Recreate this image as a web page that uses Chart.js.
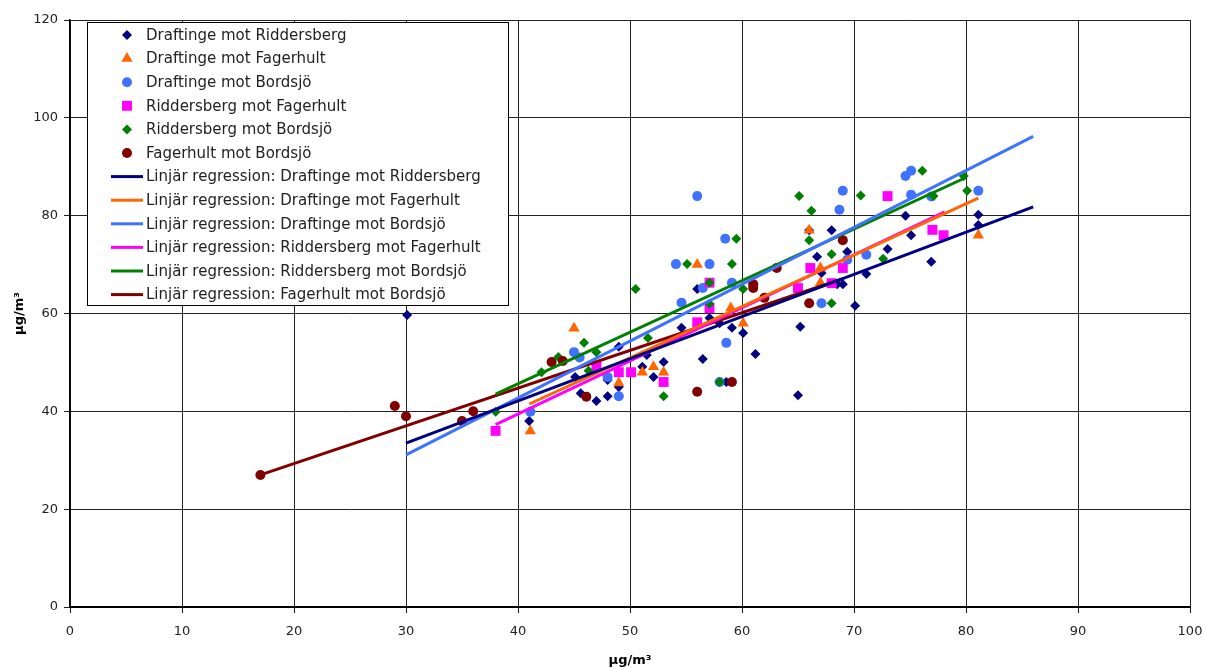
<!DOCTYPE html>
<html>
<head>
<meta charset="utf-8">
<script src="https://cdn.jsdelivr.net/npm/chart.js@4.4.1/dist/chart.umd.min.js"></script>
<style>
  html, body { margin: 0; padding: 0; background: #fff; }
  #wrap { width: 1205px; height: 668px; }
</style>
</head>
<body>
<div id="wrap"><canvas id="chart" width="1205" height="668"></canvas></div>
<script>
// tick labels
var xTicks = [0, 10, 20, 30, 40, 50, 60, 70, 80, 90, 100];
var yTicks = [0, 20, 40, 60, 80, 100, 120];

// series names
var names = ["Draftinge mot Riddersberg", "Draftinge mot Fagerhult", "Draftinge mot Bordsjö",
             "Riddersberg mot Fagerhult", "Riddersberg mot Bordsjö", "Fagerhult mot Bordsjö"];

// scatter values [x, y]
var drRid = [[30.1,59.7],[41,38],[45.1,47],[45.6,43.7],[47,42.1],[48,43.1],[48,46.4],[49,53.2],[49,45],
  [51.1,49.1],[51.5,51.5],[52.1,47],[53,50.1],[54.6,57.1],[56,65],[56.5,50.7],[57.1,59.1],[58,58],
  [58.6,46],[59.1,57.1],[60.1,56],[61.2,51.7],[65,43.3],[65.2,57.3],[66,77],[66.7,71.6],[67.1,68.3],
  [68,77],[68.5,66],[69,66],[69.4,72.6],[70.1,61.6],[71.1,68.1],[73,73.2],[74.6,80],[75.1,76],
  [76.9,70.6],[81.1,80.2],[81.1,78.1]];
var drFag = [[41.1,36],[45,57],[49,45.8],[51.1,48],[52.1,49.1],[53,48],[56,70],[59,61.1],[60.1,58],
  [66,77],[67,69.3],[67,66.3],[81.1,76]];
var drBor = [[41.1,39.9],[45,52.1],[45.5,51],[48,47],[49,43.1],[54.1,70.1],[54.6,62.2],[56,84],
  [56.5,65.2],[57.1,70.1],[58,46],[58.5,75.3],[58.6,54],[59.1,66.3],[67.1,62.1],[68.7,81.2],[69,85.1],
  [69.4,71],[71.1,72],[74.6,88.1],[75.1,89.2],[75.1,84.3],[76.9,83.9],[81.1,85.1]];
var ridFag = [[38,36],[47,49.3],[49,48],[50.1,48],[53,46],[56,58.2],[57.1,61.1],[57.1,66.3],[65,65.2],
  [66.1,69.3],[68,66.2],[69,69.3],[73,84],[77,77.1],[78,76]];
var ridBor = [[38,39.9],[42.1,48],[43.6,51.1],[45.9,54],[46.3,48.3],[47,52.1],[50.5,65],[51.6,55],
  [53,43.1],[55.1,70.1],[57.1,62],[57.1,66.3],[58,46],[59.1,70.1],[59.5,75.3],[60.1,65],[65.1,84],
  [66,75],[66.2,81],[68,72.1],[68,62.1],[70.6,84.1],[72.6,71.2],[76.1,89.2],[77.1,84],[79.8,88.1],
  [80.1,85.1]];
var fagBor = [[17,27],[29,41.1],[30,39],[35,38],[36,40],[43,50.1],[44,50.3],[46.1,43],[56,44],
  [59.1,46],[61,66],[61,65.2],[62,63.2],[63.1,69.3],[66,62.1],[69,75]];

// regression line end points [x, y]
var regDrRid = [[30,33.5],[86,81.8]];
var regDrFag = [[41,41.5],[81.1,83.6]];
var regDrBor = [[30,31.1],[86,96.2]];
var regRidFag = [[38,37.3],[78.1,80.8]];
var regRidBor = [[38,43.5],[79.9,87.7]];
var regFagBor = [[17,27],[69,67.1]];

var colors = ["#000080", "#FF6600", "#3F72FF", "#FF00FF", "#008000", "#800000"];
var shapes = ["rectRot", "triangle", "circle", "rect", "rectRot", "circle"];
var sizes = [5, 6.5, 5, 7, 5, 5];

function toPts(arr) {
  return arr.map(function(p){ return {x: p[0], y: p[1]}; });
}

var pointSets = [drRid, drFag, drBor, ridFag, ridBor, fagBor];
var lineSets = [regDrRid, regDrFag, regDrBor, regRidFag, regRidBor, regFagBor];

var datasets = [];
lineSets.forEach(function(s, i){
  datasets.push({
    label: "Linjär regression: " + names[i],
    data: toPts(s),
    showLine: true,
    borderColor: colors[i],
    backgroundColor: colors[i],
    borderWidth: 3,
    pointRadius: 0,
    order: i
  });
});
pointSets.forEach(function(s, i){
  datasets.push({
    label: names[i],
    data: toPts(s),
    showLine: false,
    pointStyle: shapes[i],
    pointRadius: sizes[i],
    pointBackgroundColor: colors[i],
    pointBorderColor: colors[i],
    pointBorderWidth: 0,
    order: 20 - i
  });
});

var FONT = "'DejaVu Sans', sans-serif";

// boxed legend inside the plot, like the original
var boxLegend = {
  id: "boxLegend",
  afterDraw: function(chart) {
    var ctx = chart.ctx;
    ctx.save();
    ctx.fillStyle = "#fff";
    ctx.fillRect(87, 22, 421, 283);
    ctx.strokeStyle = "#000";
    ctx.lineWidth = 1;
    ctx.strokeRect(87.5, 22.5, 421, 283);
    ctx.font = "15px " + FONT;
    ctx.textBaseline = "middle";
    var y0 = 35, dy = 23.6;
    for (var i = 0; i < 6; i++) {
      var y = y0 + dy * i;
      ctx.fillStyle = colors[i];
      ctx.strokeStyle = colors[i];
      Chart.helpers.drawPoint(ctx, {pointStyle: shapes[i], radius: sizes[i], borderWidth: 0}, 127, y);
      ctx.fillStyle = "#222";
      ctx.fillText(names[i], 146, y + 1);
    }
    for (var j = 0; j < 6; j++) {
      var yl = y0 + dy * (j + 6);
      ctx.strokeStyle = colors[j];
      ctx.lineWidth = 3;
      ctx.beginPath();
      ctx.moveTo(111, yl);
      ctx.lineTo(143, yl);
      ctx.stroke();
      ctx.fillStyle = "#222";
      ctx.fillText("Linjär regression: " + names[j], 146, yl + 1);
    }
    ctx.restore();
  }
};

var canvas = document.getElementById("chart").getContext("2d");
window.scatter = new Chart(canvas, {
  type: "scatter",
  data: { datasets: datasets },
  options: {
    responsive: false,
    animation: false,
    layout: { padding: { top: 20, right: 15, left: 0, bottom: 0 } },
    plugins: { legend: { display: false }, tooltip: { enabled: false } },
    scales: {
      x: {
        type: "linear",
        min: 0, max: 100,
        afterBuildTicks: function(scale){ scale.ticks = xTicks.map(function(v){ return {value: v}; }); },
        afterFit: function(scale){ scale.height = 61; scale.paddingRight = 0; scale.paddingLeft = 0; },
        grid: { color: "#222", lineWidth: 1, tickLength: 6, drawTicks: true },
        border: { color: "#000", width: 2 },
        ticks: { color: "#222", font: { family: FONT, size: 13 }, padding: 11, maxRotation: 0 },
        title: { display: true, text: "µg/m³", color: "#000", font: { family: FONT, size: 13, weight: "bold" }, padding: { top: 2, bottom: 0 } }
      },
      y: {
        type: "linear",
        min: 0, max: 120,
        afterBuildTicks: function(scale){ scale.ticks = yTicks.map(function(v){ return {value: v}; }); },
        afterFit: function(scale){ scale.width = 70; },
        grid: { color: "#222", lineWidth: 1, tickLength: 6 },
        border: { color: "#000", width: 1.5 },
        ticks: { color: "#222", font: { family: FONT, size: 13 }, padding: 6 },
        title: { display: true, text: "µg/m³", color: "#000", font: { family: FONT, size: 13, weight: "bold" }, padding: { top: 12, bottom: 4 } }
      }
    }
  },
  plugins: [boxLegend]
});
</script>
</body>
</html>
